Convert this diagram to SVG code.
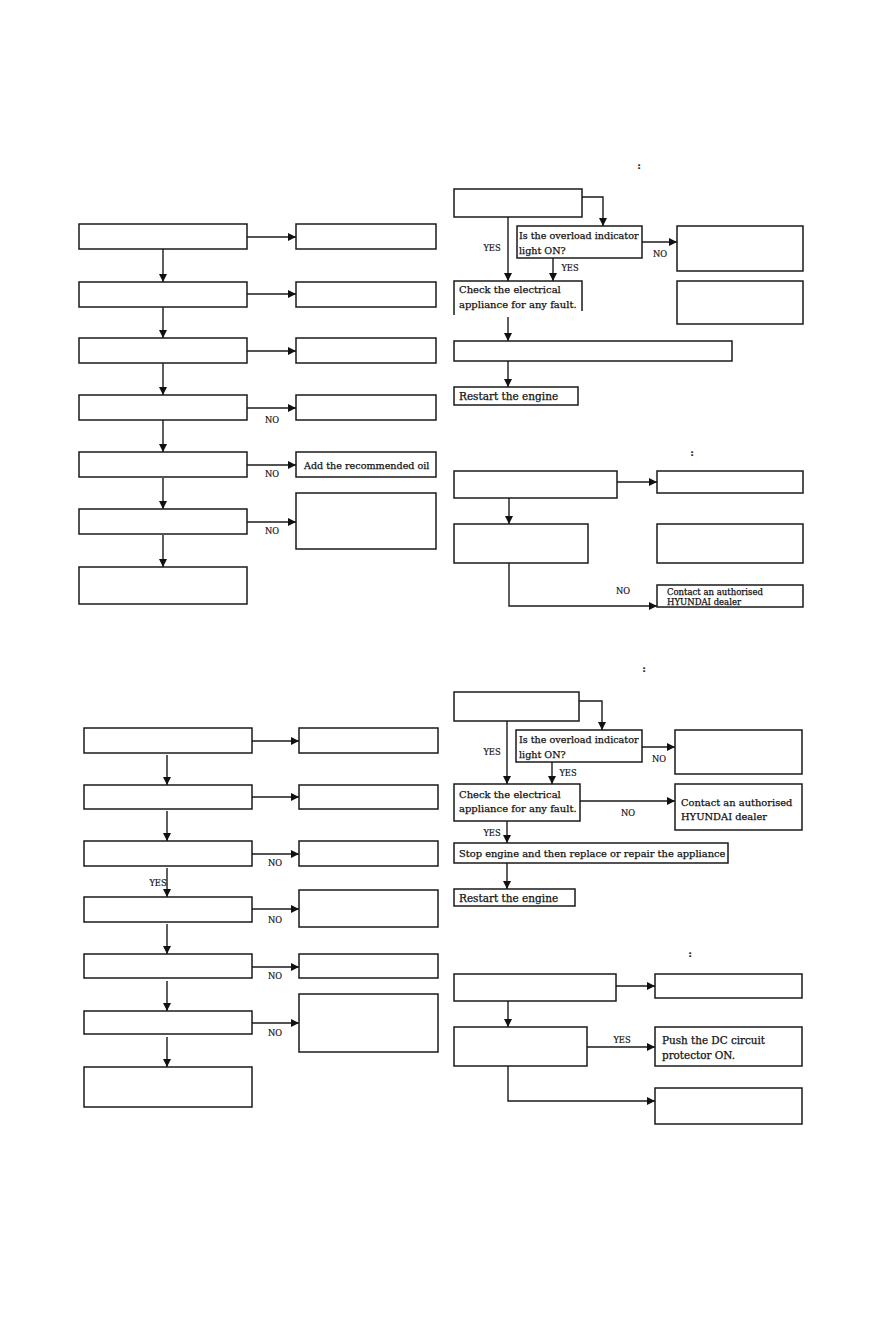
<svg xmlns="http://www.w3.org/2000/svg" width="883" height="1324" viewBox="0 0 883 1324">
<style>
.b{fill:#fff;stroke:#1a1a1a;stroke-width:1.5}
.o{fill:none;stroke:#1a1a1a;stroke-width:1.5}
.c{fill:none;stroke:#1a1a1a;stroke-width:1.4}
.t{font-family:"DejaVu Serif","Liberation Serif",serif;font-size:10px;fill:#111;stroke:#111;stroke-width:0.25}
.q{font-size:9.6px}
.r{font-size:10.5px}
.s{font-family:"DejaVu Serif","Liberation Serif",serif;font-size:8.3px;fill:#111;stroke:#111;stroke-width:0.2;text-anchor:middle}
</style>
<defs>
<marker id="ar" markerUnits="userSpaceOnUse" markerWidth="9" markerHeight="9" refX="8" refY="4" orient="auto">
<path d="M0,0 L8,4 L0,8 z" fill="#111"/>
</marker>
</defs>
<rect width="883" height="1324" fill="#fff"/>

<!-- Top-left panel -->
<g id="tl1"><rect class="b" x="79" y="224" width="168" height="25"/></g>
<g id="tl2"><rect class="b" x="79" y="282" width="168" height="25"/></g>
<g id="tl3"><rect class="b" x="79" y="338" width="168" height="25"/></g>
<g id="tl4"><rect class="b" x="79" y="395" width="168" height="25"/></g>
<g id="tl5"><rect class="b" x="79" y="452" width="168" height="25"/></g>
<g id="tl6"><rect class="b" x="79" y="509" width="168" height="25"/></g>
<g id="tl7"><rect class="b" x="79" y="567" width="168" height="37"/></g>
<g id="tr1"><rect class="b" x="296" y="224" width="140" height="25"/></g>
<g id="tr2"><rect class="b" x="296" y="282" width="140" height="25"/></g>
<g id="tr3"><rect class="b" x="296" y="338" width="140" height="25"/></g>
<g id="tr4"><rect class="b" x="296" y="395" width="140" height="25"/></g>
<g id="tr5"><rect class="b" x="296" y="452" width="140" height="25"/><text class="t q" x="304" y="469">Add the recommended oil</text></g>
<g id="tr6"><rect class="b" x="296" y="493" width="140" height="56"/></g>

<!-- Top-right panel -->
<text class="t" x="639" y="169" text-anchor="middle" font-weight="bold">:</text>
<g id="ra1"><rect class="b" x="454" y="189" width="128" height="28"/></g>
<g id="rb1"><rect class="b" x="517" y="226" width="125" height="32"/><text class="t q" x="519" y="239">Is the overload indicator</text><text class="t q" x="519" y="254">light ON?</text></g>
<g id="rc1"><path class="o" d="M454,315 V281 H582 V311"/><text class="t" x="459" y="293">Check the electrical</text><text class="t" x="459" y="308">appliance for any fault.</text></g>
<g id="rd1"><rect class="b" x="677" y="226" width="126" height="45"/></g>
<g id="re1"><rect class="b" x="677" y="281" width="126" height="43"/></g>
<g id="rf1"><rect class="b" x="454" y="341" width="278" height="20"/></g>
<g id="rg1"><rect class="b" x="454" y="387" width="124" height="18"/><text class="t r" x="459" y="400">Restart the engine</text></g>

<text class="t" x="692" y="456" text-anchor="middle" font-weight="bold">:</text>
<g id="rh1"><rect class="b" x="454" y="471" width="163" height="27"/></g>
<g id="ri1"><rect class="b" x="657" y="471" width="146" height="22"/></g>
<g id="rj1"><rect class="b" x="454" y="524" width="134" height="39"/></g>
<g id="rk1"><rect class="b" x="657" y="524" width="146" height="39"/></g>
<g id="rl1"><rect class="b" x="657" y="585" width="146" height="22"/><text class="t" style="font-size:8.5px" x="667" y="595">Contact an authorised</text><text class="t" style="font-size:8.5px" x="667" y="605">HYUNDAI dealer</text></g>

<!-- Bottom-left panel -->
<g id="bl1"><rect class="b" x="84" y="728" width="168" height="25"/></g>
<g id="bl2"><rect class="b" x="84" y="785" width="168" height="24"/></g>
<g id="bl3"><rect class="b" x="84" y="841" width="168" height="25"/></g>
<g id="bl4"><rect class="b" x="84" y="897" width="168" height="25"/></g>
<g id="bl5"><rect class="b" x="84" y="954" width="168" height="24"/></g>
<g id="bl6"><rect class="b" x="84" y="1011" width="168" height="23"/></g>
<g id="bl7"><rect class="b" x="84" y="1067" width="168" height="40"/></g>
<g id="br1"><rect class="b" x="299" y="728" width="139" height="25"/></g>
<g id="br2"><rect class="b" x="299" y="785" width="139" height="24"/></g>
<g id="br3"><rect class="b" x="299" y="841" width="139" height="25"/></g>
<g id="br4"><rect class="b" x="299" y="890" width="139" height="37"/></g>
<g id="br5"><rect class="b" x="299" y="954" width="139" height="24"/></g>
<g id="br6"><rect class="b" x="299" y="994" width="139" height="58"/></g>

<!-- Bottom-right panel -->
<text class="t" x="644" y="672" text-anchor="middle" font-weight="bold">:</text>
<g id="ra2"><rect class="b" x="454" y="692" width="125" height="29"/></g>
<g id="rb2"><rect class="b" x="516" y="730" width="126" height="32"/><text class="t q" x="519" y="743">Is the overload indicator</text><text class="t q" x="519" y="758">light ON?</text></g>
<g id="rc2"><rect class="b" x="454" y="784" width="126" height="37"/><text class="t" x="459" y="798">Check the electrical</text><text class="t" x="459" y="812">appliance for any fault.</text></g>
<g id="rd2"><rect class="b" x="675" y="730" width="127" height="44"/></g>
<g id="re2"><rect class="b" x="675" y="784" width="127" height="46"/><text class="t" style="font-size:9.9px" x="681" y="806">Contact an authorised</text><text class="t" style="font-size:9.9px" x="681" y="820">HYUNDAI  dealer</text></g>
<g id="rf2"><rect class="b" x="454" y="843" width="274" height="20"/><text class="t" style="font-size:9.9px" x="459" y="857">Stop engine  and then replace or repair the appliance</text></g>
<g id="rg2"><rect class="b" x="454" y="889" width="121" height="17"/><text class="t r" x="459" y="902">Restart the engine</text></g>

<text class="t" x="690" y="957" text-anchor="middle" font-weight="bold">:</text>
<g id="rh2"><rect class="b" x="454" y="974" width="162" height="27"/></g>
<g id="ri2"><rect class="b" x="655" y="974" width="147" height="24"/></g>
<g id="rj2"><rect class="b" x="454" y="1027" width="133" height="39"/></g>
<g id="rk2"><rect class="b" x="655" y="1027" width="147" height="39"/><text class="t" style="font-size:10.4px" x="662" y="1044">Push the DC circuit</text><text class="t" style="font-size:10.4px" x="662" y="1059">protector ON.</text></g>
<g id="rl2"><rect class="b" x="655" y="1088" width="147" height="36"/></g>

<!-- Connectors -->
<g id="connectors">
<path class="c" d="M247,237 H296" marker-end="url(#ar)"/>
<path class="c" d="M247,294 H296" marker-end="url(#ar)"/>
<path class="c" d="M247,351 H296" marker-end="url(#ar)"/>
<path class="c" d="M247,408 H296" marker-end="url(#ar)"/>
<path class="c" d="M247,465 H296" marker-end="url(#ar)"/>
<path class="c" d="M247,522 H296" marker-end="url(#ar)"/>
<path class="c" d="M163,249 V282" marker-end="url(#ar)"/>
<path class="c" d="M163,307 V338" marker-end="url(#ar)"/>
<path class="c" d="M163,363 V395" marker-end="url(#ar)"/>
<path class="c" d="M163,420 V452" marker-end="url(#ar)"/>
<path class="c" d="M163,478 V509" marker-end="url(#ar)"/>
<path class="c" d="M163,535 V567" marker-end="url(#ar)"/>
<text class="s" x="272" y="423">NO</text>
<text class="s" x="272" y="477">NO</text>
<text class="s" x="272" y="534">NO</text>

<path class="c" d="M582,197 H603 V226" marker-end="url(#ar)"/>
<path class="c" d="M508,217 V281" marker-end="url(#ar)"/>
<path class="c" d="M553,258 V281" marker-end="url(#ar)"/>
<path class="c" d="M642,242 H677" marker-end="url(#ar)"/>
<path class="c" d="M508,317 V341" marker-end="url(#ar)"/>
<path class="c" d="M508,361 V387" marker-end="url(#ar)"/>
<text class="s" x="492" y="251">YES</text>
<text class="s" x="570" y="271">YES</text>
<text class="s" x="660" y="257">NO</text>

<path class="c" d="M617,482 H657" marker-end="url(#ar)"/>
<path class="c" d="M509,498 V524" marker-end="url(#ar)"/>
<path class="c" d="M509,563 V606 H657" marker-end="url(#ar)"/>
<text class="s" x="623" y="594">NO</text>

<path class="c" d="M252,741 H299" marker-end="url(#ar)"/>
<path class="c" d="M252,797 H299" marker-end="url(#ar)"/>
<path class="c" d="M252,854 H299" marker-end="url(#ar)"/>
<path class="c" d="M252,909 H299" marker-end="url(#ar)"/>
<path class="c" d="M252,967 H299" marker-end="url(#ar)"/>
<path class="c" d="M252,1023 H299" marker-end="url(#ar)"/>
<path class="c" d="M167,755 V785" marker-end="url(#ar)"/>
<path class="c" d="M167,811 V841" marker-end="url(#ar)"/>
<path class="c" d="M167,868 V897" marker-end="url(#ar)"/>
<path class="c" d="M167,924 V954" marker-end="url(#ar)"/>
<path class="c" d="M167,981 V1011" marker-end="url(#ar)"/>
<path class="c" d="M167,1037 V1067" marker-end="url(#ar)"/>
<text class="s" x="275" y="866">NO</text>
<text class="s" x="275" y="923">NO</text>
<text class="s" x="275" y="979">NO</text>
<text class="s" x="275" y="1036">NO</text>
<text class="s" x="158" y="886">YES</text>

<path class="c" d="M579,701 H602 V730" marker-end="url(#ar)"/>
<path class="c" d="M507,721 V784" marker-end="url(#ar)"/>
<path class="c" d="M552,762 V784" marker-end="url(#ar)"/>
<path class="c" d="M642,747 H675" marker-end="url(#ar)"/>
<path class="c" d="M580,801 H675" marker-end="url(#ar)"/>
<path class="c" d="M507,821 V843" marker-end="url(#ar)"/>
<path class="c" d="M507,863 V889" marker-end="url(#ar)"/>
<text class="s" x="492" y="755">YES</text>
<text class="s" x="568" y="776">YES</text>
<text class="s" x="659" y="762">NO</text>
<text class="s" x="628" y="816">NO</text>
<text class="s" x="492" y="836">YES</text>

<path class="c" d="M616,986 H655" marker-end="url(#ar)"/>
<path class="c" d="M508,1001 V1027" marker-end="url(#ar)"/>
<path class="c" d="M587,1047 H655" marker-end="url(#ar)"/>
<path class="c" d="M508,1066 V1101 H655" marker-end="url(#ar)"/>
<text class="s" x="622" y="1043">YES</text>
</g>
</svg>
